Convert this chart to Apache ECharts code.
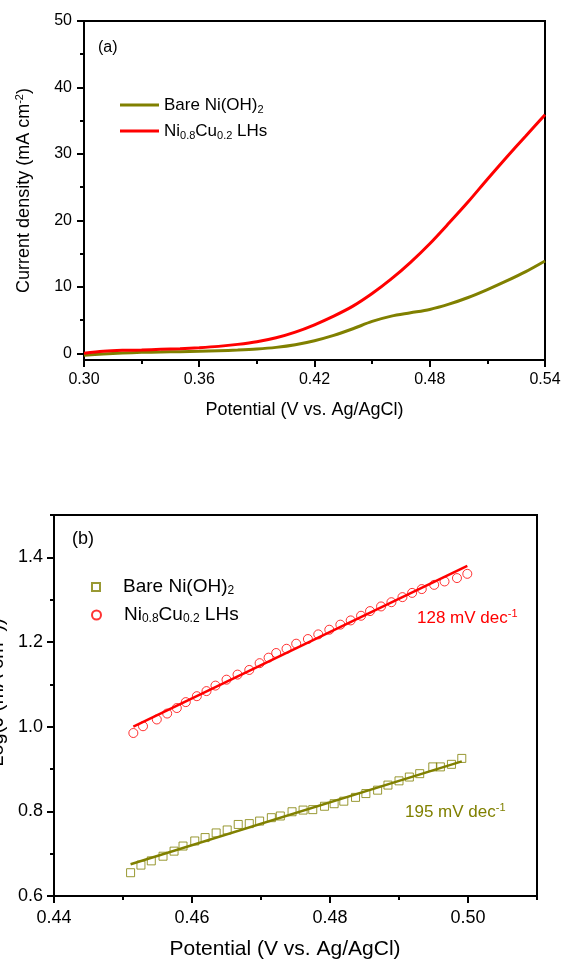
<!DOCTYPE html>
<html>
<head>
<meta charset="utf-8">
<script src="https://cdn.jsdelivr.net/npm/echarts@6/dist/echarts.min.js"></script>
<style>
  html, body { margin: 0; padding: 0; background: #fff; }
  #chart { width: 562px; height: 962px; }
</style>
</head>
<body>
<div id="chart"></div>
<script>
// ---- (a) polarization curves: current density vs. potential ----
const lsvPotential = [0.30, 0.31, 0.32, 0.33, 0.34, 0.35, 0.36, 0.37, 0.38, 0.39, 0.40, 0.41, 0.42,
                      0.43, 0.44, 0.45, 0.46, 0.47, 0.48, 0.49, 0.50, 0.51, 0.52, 0.53, 0.54];
const lsvBare = [-0.3, -0.1, 0.05, 0.15, 0.2, 0.25, 0.3, 0.4, 0.5, 0.65, 0.9, 1.3, 1.9,
                 2.7, 3.7, 4.8, 5.6, 6.1, 6.6, 7.4, 8.4, 9.6, 10.9, 12.3, 13.9];
const lsvNiCu = [0.0, 0.3, 0.45, 0.5, 0.6, 0.7, 0.85, 1.05, 1.35, 1.75, 2.35, 3.2, 4.3,
                 5.6, 7.1, 9.0, 11.2, 13.7, 16.5, 19.6, 22.8, 26.2, 29.5, 32.7, 35.9];
const lsvXTicks = [0.30, 0.36, 0.42, 0.48, 0.54];
const lsvXMinor = [0.33, 0.39, 0.45, 0.51];
const lsvYTicks = [0, 10, 20, 30, 40, 50];
const lsvYMinor = [5, 15, 25, 35, 45];

// ---- (b) Tafel plots ----
const tafelBareV = [0.4511, 0.4526, 0.4541, 0.4558, 0.4574, 0.4587, 0.4604, 0.4619, 0.4635, 0.4651,
                    0.4667, 0.4683, 0.4698, 0.4715, 0.4728, 0.4745, 0.4761, 0.4775, 0.4792, 0.4806,
                    0.4820, 0.4837, 0.4852, 0.4869, 0.4884, 0.4900, 0.4915, 0.4930, 0.4949, 0.4960,
                    0.4976, 0.4991];
const tafelBareLog = [0.655, 0.673, 0.683, 0.694, 0.706, 0.718, 0.730, 0.738, 0.749, 0.756,
                      0.769, 0.771, 0.777, 0.785, 0.789, 0.799, 0.803, 0.804, 0.812, 0.818,
                      0.824, 0.833, 0.842, 0.850, 0.862, 0.872, 0.881, 0.889, 0.905, 0.905,
                      0.911, 0.925];
const tafelNiCuV = [0.4515, 0.4529, 0.4549, 0.4564, 0.4578, 0.4591, 0.4607, 0.4621, 0.4634, 0.4650,
                    0.4666, 0.4683, 0.4698, 0.4711, 0.4722, 0.4737, 0.4751, 0.4768, 0.4783, 0.4799,
                    0.4815, 0.4830, 0.4845, 0.4858, 0.4874, 0.4889, 0.4905, 0.4919, 0.4933, 0.4951,
                    0.4966, 0.4984, 0.4999];
const tafelNiCuLog = [0.985, 1.001, 1.017, 1.031, 1.044, 1.058, 1.072, 1.084, 1.097, 1.111,
                      1.123, 1.134, 1.150, 1.163, 1.174, 1.184, 1.196, 1.207, 1.218, 1.229,
                      1.241, 1.251, 1.262, 1.273, 1.284, 1.294, 1.306, 1.316, 1.325, 1.335,
                      1.343, 1.351, 1.361];
// linear fits
const fitBareV = [0.4511, 0.4991];
const fitBareLog = [0.675, 0.918];
const fitNiCuV = [0.4515, 0.4999];
const fitNiCuLog = [1.000, 1.380];
const tafelXTicks = [0.44, 0.46, 0.48, 0.50];
const tafelXMinor = [0.45, 0.47, 0.49, 0.51];
const tafelYTicks = [0.6, 0.8, 1.0, 1.2, 1.4];
const tafelYMinor = [0.7, 0.9, 1.1, 1.3, 1.5];

const FONT = "'Liberation Sans', Arial, Helvetica, sans-serif";
const OLIVE = '#808000';
const RED = '#ff0000';
const BLACK = '#000';

const pairs = (xs, ys) => xs.map((x, i) => [x, ys[i]]);

function majorAxis(o) {
  return {
    type: 'value', gridIndex: o.grid, position: o.pos, min: o.min, max: o.max,
    axisLine: { show: true, onZero: false, lineStyle: { color: BLACK, width: 2 } },
    axisTick: { show: true, customValues: o.ticks, length: 7, lineStyle: { color: BLACK, width: 2 } },
    axisLabel: {
      customValues: o.ticks, formatter: o.fmt, margin: o.margin,
      fontSize: o.fontSize, fontFamily: FONT, color: BLACK
    },
    splitLine: { show: false },
    name: o.name, nameLocation: 'middle', nameGap: o.nameGap,
    nameTextStyle: Object.assign({ fontSize: o.nameSize, fontFamily: FONT, color: BLACK }, o.nameStyle || {})
  };
}
function minorAxis(o) {
  return {
    type: 'value', gridIndex: o.grid, position: o.pos, min: o.min, max: o.max,
    axisLine: { show: false, onZero: false },
    axisTick: { show: true, customValues: o.ticks, length: 4, lineStyle: { color: BLACK, width: 2 } },
    axisLabel: { show: false },
    splitLine: { show: false }
  };
}

const supSub = (size) => ({
  sub: { fontSize: size, fontFamily: FONT, color: BLACK, verticalAlign: 'bottom', lineHeight: 20 },
  sup: { fontSize: size, fontFamily: FONT, color: BLACK, verticalAlign: 'top', lineHeight: 20 }
});

// axis title styles: main run of text plus optional shift via padding
const titleRich = (size, pad) => Object.assign(
  { t: { fontSize: size, fontFamily: FONT, color: BLACK, lineHeight: 22, padding: pad } },
  supSub(Math.round(size * 0.62))
);

function legendItem(name, left, top, fontSize, icon, extra) {
  return Object.assign({
    data: [name], left: left, top: top, orient: 'vertical', selectedMode: false, padding: 0,
    itemWidth: 39, itemHeight: 3, icon: icon,
    textStyle: {
      fontSize: fontSize, fontFamily: FONT, color: BLACK, lineHeight: 20,
      rich: Object.assign({ n: { fontSize: fontSize, fontFamily: FONT, color: BLACK, lineHeight: 20 } },
                          supSub(Math.round(fontSize * 0.65)))
    },
    formatter: (n) => n === 'Bare Ni(OH)2'
      ? '{n|Bare Ni(OH)}{sub|2}'
      : '{n|Ni}{sub|0.8}{n|Cu}{sub|0.2}{n| LHs}'
  }, extra || {});
}

const tafelLegendText = (fontSize) => ({
  fontSize: fontSize, fontFamily: FONT, color: BLACK, lineHeight: 20, padding: [0, 0, 0, 18],
  rich: Object.assign({ n: { fontSize: fontSize, fontFamily: FONT, color: BLACK, lineHeight: 20 } },
                      supSub(Math.round(fontSize * 0.65)))
});

const chart = echarts.init(document.getElementById('chart'), null, { renderer: 'canvas' });

chart.setOption({
  animation: false,
  backgroundColor: '#fff',
  grid: [
    { left: 84, right: 17, top: 21, bottom: 602, outerBoundsMode: 'none', containLabel: false,
      show: true, borderColor: BLACK, borderWidth: 2, backgroundColor: 'transparent' },
    { left: 54, right: 25, top: 515, bottom: 66, outerBoundsMode: 'none', containLabel: false,
      show: true, borderColor: BLACK, borderWidth: 2, backgroundColor: 'transparent' }
  ],
  xAxis: [
    majorAxis({ grid: 0, pos: 'bottom', min: 0.30, max: 0.54, ticks: lsvXTicks, fmt: v => v.toFixed(2),
                margin: 12, fontSize: 16, name: '{t|Potential (V vs. Ag/AgCl)}', nameGap: 39, nameSize: 18,
                nameStyle: { rich: titleRich(18, [0, 20, 0, 0]) } }),
    minorAxis({ grid: 0, pos: 'bottom', min: 0.30, max: 0.54, ticks: lsvXMinor }),
    majorAxis({ grid: 1, pos: 'bottom', min: 0.44, max: 0.51, ticks: tafelXTicks, fmt: v => v.toFixed(2),
                margin: 13, fontSize: 18, name: '{t|Potential (V vs. Ag/AgCl)}', nameGap: 42, nameSize: 21,
                nameStyle: { rich: titleRich(21, [0, 21, 0, 0]) } }),
    minorAxis({ grid: 1, pos: 'bottom', min: 0.44, max: 0.51, ticks: tafelXMinor })
  ],
  yAxis: [
    majorAxis({ grid: 0, pos: 'left', min: -1, max: 50, ticks: lsvYTicks, fmt: v => String(Math.round(v)),
                margin: 12, fontSize: 16, name: 'Current density (mA cm{sup|-2})', nameGap: 50, nameSize: 18,
                nameStyle: { rich: supSub(11) } }),
    minorAxis({ grid: 0, pos: 'left', min: -1, max: 50, ticks: lsvYMinor }),
    majorAxis({ grid: 1, pos: 'left', min: 0.6, max: 1.5, ticks: tafelYTicks, fmt: v => v.toFixed(1),
                margin: 11, fontSize: 18, name: 'Log(J (mA cm{sup|-2}))', nameGap: 43, nameSize: 20,
                nameStyle: { rich: supSub(12), padding: [0, 0, 0, 26] } }),
    minorAxis({ grid: 1, pos: 'left', min: 0.6, max: 1.5, ticks: tafelYMinor })
  ],
  legend: [
    legendItem('Bare Ni(OH)2', 120, 95, 17, 'rect'),
    legendItem('Ni0.8Cu0.2 LHs', 120, 121, 17, 'rect'),
    legendItem('Bare Ni(OH)2 ', 91, 577, 19, 'rect',
      { data: [{ name: 'Bare Ni(OH)2 ', icon: 'rect' }], itemWidth: 8, itemHeight: 8,
        textStyle: tafelLegendText(19),
        formatter: () => '{n|Bare Ni(OH)}{sub|2}' }),
    legendItem('Ni0.8Cu0.2 LHs ', 91, 605, 19, 'circle',
      { data: [{ name: 'Ni0.8Cu0.2 LHs ', icon: 'circle' }], itemWidth: 9, itemHeight: 9,
        textStyle: tafelLegendText(19),
        formatter: () => '{n|Ni}{sub|0.8}{n|Cu}{sub|0.2}{n| LHs}' })
  ],
  series: [
    {
      name: 'Bare Ni(OH)2', type: 'line', xAxisIndex: 0, yAxisIndex: 0,
      data: pairs(lsvPotential, lsvBare), showSymbol: false, smooth: 0.3,
      color: OLIVE, lineStyle: { color: OLIVE, width: 3 }
    },
    {
      name: 'Ni0.8Cu0.2 LHs', type: 'line', xAxisIndex: 0, yAxisIndex: 0,
      data: pairs(lsvPotential, lsvNiCu), showSymbol: false, smooth: 0.3,
      color: RED, lineStyle: { color: RED, width: 3 }
    },
    {
      name: 'Bare Ni(OH)2 ', type: 'scatter', xAxisIndex: 2, yAxisIndex: 2,
      data: pairs(tafelBareV, tafelBareLog), symbol: 'rect', symbolSize: 8,
      itemStyle: { color: 'transparent', borderColor: OLIVE, borderWidth: 1 }
    },
    {
      name: 'Ni0.8Cu0.2 LHs ', type: 'scatter', xAxisIndex: 2, yAxisIndex: 2,
      data: pairs(tafelNiCuV, tafelNiCuLog), symbol: 'circle', symbolSize: 9,
      itemStyle: { color: 'transparent', borderColor: RED, borderWidth: 1 }
    },
    {
      name: 'fit-bare', type: 'line', xAxisIndex: 2, yAxisIndex: 2, z: 3,
      data: pairs(fitBareV, fitBareLog), showSymbol: false,
      lineStyle: { color: OLIVE, width: 2.5 }
    },
    {
      name: 'fit-nicu', type: 'line', xAxisIndex: 2, yAxisIndex: 2, z: 3,
      data: pairs(fitNiCuV, fitNiCuLog), showSymbol: false,
      lineStyle: { color: RED, width: 2.5 }
    }
  ],
  graphic: [
    { type: 'text', left: 98, top: 40, style: { text: '(a)', font: '16px ' + FONT, fill: BLACK } },
    { type: 'text', left: 72, top: 530, style: { text: '(b)', font: '18px ' + FONT, fill: BLACK } },
    {
      type: 'text', left: 417, top: 608,
      style: {
        text: '{n|128 mV dec}{sup|-1}', fill: RED,
        rich: {
          n: { fontSize: 17, fontFamily: FONT, fill: RED, lineHeight: 20 },
          sup: { fontSize: 11, fontFamily: FONT, fill: RED, verticalAlign: 'top', lineHeight: 20 }
        }
      }
    },
    {
      type: 'text', left: 405, top: 802,
      style: {
        text: '{n|195 mV dec}{sup|-1}', fill: OLIVE,
        rich: {
          n: { fontSize: 17, fontFamily: FONT, fill: OLIVE, lineHeight: 20 },
          sup: { fontSize: 11, fontFamily: FONT, fill: OLIVE, verticalAlign: 'top', lineHeight: 20 }
        }
      }
    }
  ]
});
</script>
</body>
</html>
